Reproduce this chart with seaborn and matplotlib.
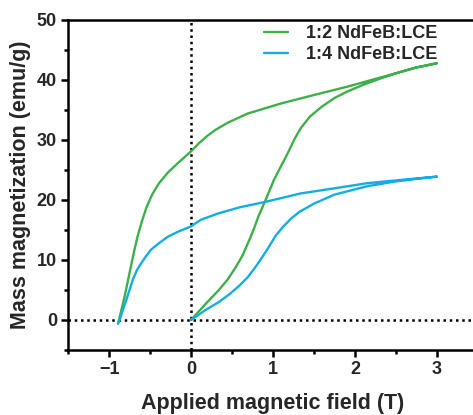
import matplotlib
matplotlib.use("Agg")
import matplotlib.pyplot as plt
import seaborn as sns
import pandas as pd
from matplotlib.ticker import MultipleLocator

# Data (loop: initial branch from 0 to 3 T, then back to about -0.9 T)
green_x = [0.0, 0.1, 0.2, 0.34, 0.45, 0.55, 0.63, 0.71, 0.77, 0.82, 0.91, 1.01, 1.1, 1.18, 1.26, 1.34, 1.45,
           1.59, 1.75, 1.91, 2.1, 2.32, 2.52, 2.72, 2.9, 3.0,
           2.75, 2.52, 2.2, 1.91, 1.5, 1.1, 0.69, 0.45, 0.3, 0.2, 0.1, 0.0, -0.14, -0.28, -0.39, -0.47,
           -0.54, -0.6, -0.65, -0.69, -0.75, -0.81, -0.85, -0.89]
green_y = [0.0, 1.5, 3.0, 5.0, 6.8, 8.9, 10.8, 13.3, 15.3, 17.2, 20.0, 23.3, 25.7, 27.8, 30.1, 32.0, 33.9,
           35.5, 37.0, 38.1, 39.2, 40.3, 41.2, 42.0, 42.5, 42.8,
           42.1, 41.2, 40.0, 38.9, 37.5, 36.1, 34.4, 32.9, 31.7, 30.7, 29.5, 28.1, 26.4, 24.6, 22.8, 21.0,
           18.9, 16.4, 14.0, 11.7, 7.8, 3.9, 1.6, -0.6]

blue_x = [0.0, 0.17, 0.34, 0.46, 0.58, 0.69, 0.79, 0.87, 0.95, 1.03, 1.12, 1.22, 1.32, 1.5, 1.75, 2.15,
          2.5, 2.8, 3.0,
          2.6, 2.15, 1.75, 1.34, 0.91, 0.6, 0.34, 0.12, 0.0, -0.16, -0.28, -0.39, -0.49, -0.55, -0.61,
          -0.66, -0.71, -0.75, -0.79, -0.83, -0.87, -0.89]
blue_y = [0.0, 1.6, 3.0, 4.2, 5.6, 7.1, 8.9, 10.5, 12.2, 14.0, 15.5, 16.9, 18.0, 19.4, 20.9, 22.3,
          23.1, 23.6, 23.9,
          23.4, 22.8, 21.95, 21.1, 19.7, 18.8, 17.8, 16.7, 15.6, 14.7, 13.9, 12.8, 11.7, 10.6, 9.4,
          8.3, 6.7, 5.0, 3.3, 1.7, 0.0, -0.6]

labels = ["1:2 NdFeB:LCE", "1:4 NdFeB:LCE"]
colors = ["#3DB04B", "#12ADE4"]

df = pd.concat([
    pd.DataFrame({"H": green_x, "M": green_y, "sample": labels[0]}),
    pd.DataFrame({"H": blue_x, "M": blue_y, "sample": labels[1]}),
])

sns.set_theme(style="white")
plt.rcParams['font.family'] = ['Liberation Sans', 'DejaVu Sans']
plt.rcParams['font.weight'] = 'bold'

fig = plt.figure(figsize=(4.73, 4.15), dpi=100)
ax = fig.add_axes([68 / 473, 65 / 415, 410 / 473, 330 / 415])

ax.axvline(0, color="black", linestyle=(0, (1, 1.5)), lw=1.8, zorder=1)
ax.axhline(0, color="black", linestyle=(0, (1, 1.5)), lw=1.8, zorder=1)

sns.lineplot(data=df, x="H", y="M", hue="sample", palette=colors, sort=False,
             estimator=None, units="sample", lw=1.7, ax=ax, zorder=3)

ax.set_xlim(-1.5, 3.5)
ax.set_ylim(-5, 50)
ax.xaxis.set_major_locator(MultipleLocator(1))
ax.xaxis.set_minor_locator(MultipleLocator(0.5))
ax.yaxis.set_major_locator(MultipleLocator(10))
ax.yaxis.set_minor_locator(MultipleLocator(5))
ax.tick_params(which="both", direction="out", color="black", width=1.8,
               bottom=True, left=True, top=False, right=False)
ax.tick_params(which="major", length=5, labelsize=13, pad=3)
ax.tick_params(which="minor", length=3)
ax.set_xticks([-1, 0, 1, 2, 3])
ax.set_xticklabels(["\u22121", "0", "1", "2", "3"], fontweight="bold")
for t in ax.get_yticklabels():
    t.set_fontweight("bold")

for s in ["left", "bottom", "top", "right"]:
    ax.spines[s].set_color("black")
    ax.spines[s].set_linewidth(1.8)

ax.set_xlabel("Applied magnetic field (T)", fontsize=15.5, fontweight="bold", labelpad=11)
ax.set_ylabel("Mass magnetization (emu/g)", fontsize=15.5, fontweight="bold", labelpad=4)

leg = ax.legend(loc="upper right", bbox_to_anchor=(0.9, 0.985), frameon=False,
                borderaxespad=0, borderpad=0,
                fontsize=13, handlelength=1.35, handletextpad=0.95, labelspacing=0.22,
                title=None)
for t in leg.get_texts():
    t.set_fontweight("bold")

fig.savefig("out.png", dpi=100)
